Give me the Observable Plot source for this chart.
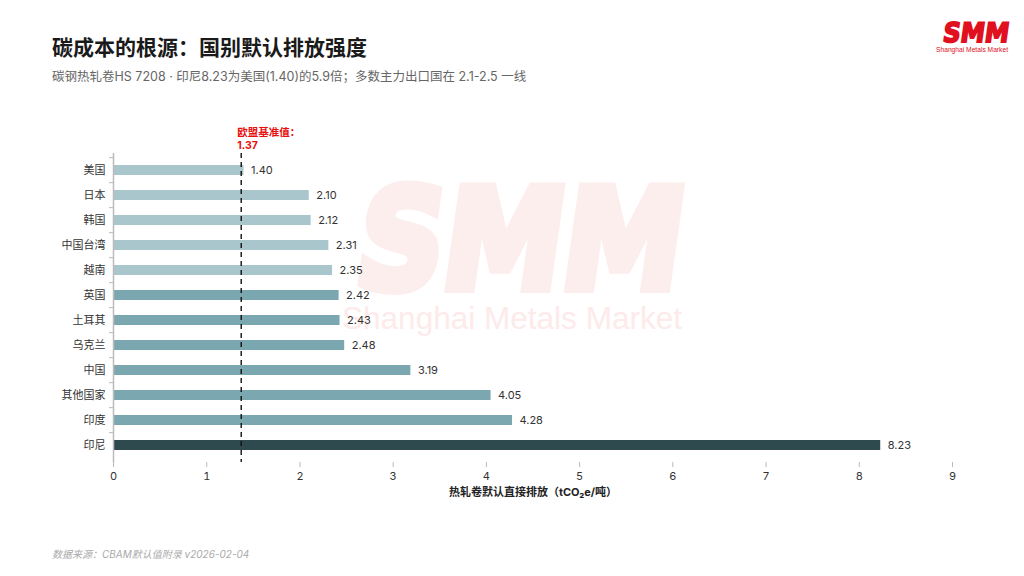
<!DOCTYPE html>
<html><head><meta charset="utf-8">
<script src="https://cdn.jsdelivr.net/npm/d3@7"></script>
<script src="https://cdn.jsdelivr.net/npm/@observablehq/plot@0.6"></script>
<style>
body{margin:0;width:1024px;height:576px;background:#fff;position:relative;overflow:hidden;font-family:Inter,"Noto Sans CJK SC",sans-serif;}
#title{position:absolute;left:52px;top:31px;font-size:21px;font-weight:700;color:#1a1a1a;font-family:"Noto Sans CJK SC",sans-serif;}
#sub{position:absolute;left:52px;top:66px;font-size:12.5px;color:#666;font-family:Inter,"Noto Sans CJK SC",sans-serif;}
#foot{position:absolute;left:52px;top:546px;font-size:10px;color:#aaa;font-style:italic;}
#deco{position:absolute;left:0;top:0;}
#chart{position:absolute;left:0;top:110px;}
</style></head><body>
<svg id="deco" width="1024" height="576">
  <g transform="translate(0,288) skewX(-8)">
    <text x="352" y="0" font-size="138" font-weight="bold" font-family="DejaVu Sans" fill="#fdeeee" stroke="#fdeeee" stroke-width="10" stroke-linejoin="miter" textLength="325" lengthAdjust="spacingAndGlyphs">SMM</text>
  </g>
  <text x="342" y="329" font-size="31" font-family="Liberation Sans, Arial" fill="#fdeaea" textLength="340" lengthAdjust="spacingAndGlyphs">Shanghai Metals Market</text>
  <g transform="translate(0,42) skewX(-8)">
    <text x="942" y="0" font-size="27" font-weight="bold" font-family="DejaVu Sans" fill="#e0101e" stroke="#e0101e" stroke-width="1.8" textLength="66" lengthAdjust="spacingAndGlyphs">SMM</text>
  </g>
  <text x="936" y="52" font-size="7" font-family="Liberation Sans, Arial" fill="#e0101e" textLength="72" lengthAdjust="spacingAndGlyphs">Shanghai Metals Market</text>
</svg>
<div id="title">碳成本的根源：国别默认排放强度</div>
<div id="sub">碳钢热轧卷HS 7208 · 印尼8.23为美国(1.40)的5.9倍；多数主力出口国在 2.1-2.5 一线</div>
<div id="chart"></div>
<div id="foot">数据来源：CBAM默认值附录 v2026-02-04</div>
<script>
const countries = ["美国","日本","韩国","中国台湾","越南","英国","土耳其","乌克兰","中国","其他国家","印度","印尼"];
const values = [1.40,2.10,2.12,2.31,2.35,2.42,2.43,2.48,3.19,4.05,4.28,8.23];
const groups = ["低","低","低","低","低","中","中","中","中","中","中","高"];
const benchmark = 1.37;
const benchmarkLabel = "欧盟基准值：";
const xLabel = "热轧卷默认直接排放（tCO₂e/吨）";
const xTicks = [0,1,2,3,4,5,6,7,8,9];

const data = countries.map((c,i)=>({country:c,value:values[i],group:groups[i]}));
const step = 25.75;

const chart = Plot.plot({
  width:1024, height:400,
  marginLeft:113, marginRight:72, marginTop:43, marginBottom:48,
  style:{background:"transparent",fontFamily:'Inter,"Noto Sans CJK SC",sans-serif',fontSize:"11px",color:"#333"},
  x:{domain:[0,9]},
  y:{domain:countries, paddingInner:0.6, paddingOuter:0.35},
  color:{domain:["低","中","高"], range:["#a8c6cc","#7ba8b0","#2f4a4f"]},
  marks:[
    Plot.barX(data,{x:"value",y:"country",fill:"group"}),
    Plot.text(data,{x:"value",y:"country",text:d=>d.value.toFixed(2),textAnchor:"start",dx:7,fill:"#333",fontSize:11}),
    Plot.ruleX([benchmark],{stroke:"#111",strokeWidth:1.4,strokeDasharray:"5,4"}),
    Plot.text([benchmark],{x:d=>d,frameAnchor:"top",text:d=>benchmarkLabel+"\n"+d.toFixed(2),textAnchor:"start",lineAnchor:"bottom",dx:-4,dy:-5,fill:"#e8100f",fontWeight:700,fontSize:10.5,lineHeight:1.15}),
    Plot.axisY({tickSize:0,tickPadding:8,label:null,fill:"#333",fontSize:11}),
    Plot.axisY({tickSize:4,tickFormat:()=>"",label:null,dy:-step/2,stroke:"#bbb"}),
    Plot.ruleX([0],{stroke:"#bbb",strokeWidth:1.5}),
    Plot.ruleY([0],{frameAnchor:"bottom",stroke:"#bbb",strokeWidth:1.5}),
    Plot.axisX({ticks:xTicks,tickSize:5,stroke:"#bbb",fill:"#333",tickPadding:5,label:xLabel,labelAnchor:"center",labelArrow:"none",labelOffset:33,fontSize:11})
  ]
});
document.getElementById("chart").appendChild(chart);
chart.querySelectorAll("g[aria-label='x-axis label'] text").forEach(t=>{t.setAttribute("font-weight","700");t.setAttribute("fill","#222");});
</script>
</body></html>
